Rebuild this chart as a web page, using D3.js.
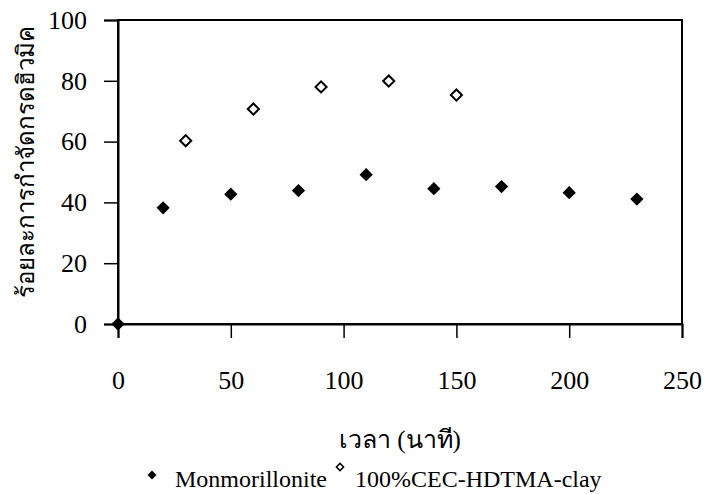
<!DOCTYPE html>
<html>
<head>
<meta charset="utf-8">
<script src="https://cdn.jsdelivr.net/npm/d3@7"></script>
<style>
  html, body { margin: 0; padding: 0; background: #fff; }
</style>
</head>
<body>
<svg id="chart" width="707" height="494"></svg>
<script>
// ---- Data ----
const monTimes = [0, 20, 50, 80, 110, 140, 170, 200, 230];
const monValues = [0, 38.2, 42.7, 43.9, 49.1, 44.5, 45.2, 43.2, 41.1];
const hdtmaTimes = [30, 60, 90, 120, 150];
const hdtmaValues = [60.3, 70.7, 78.0, 79.9, 75.3];
const xTicks = [0, 50, 100, 150, 200, 250];
const yTicks = [0, 20, 40, 60, 80, 100];
const seriesNames = ["Monmorillonite", "100%CEC-HDTMA-clay"];
const xTitle = "เวลา (นาที)";
const yTitle = "ร้อยละการกำจัดกรดฮิวมิค";

const SERIF = "'Liberation Serif', 'Times New Roman', Tinos, serif";

// ---- Layout ----
const svg = d3.select("#chart");
const L = 118, R = 682, T = 20, B = 324;
const x = d3.scaleLinear().domain([0, 250]).range([L, R]);
const y = d3.scaleLinear().domain([0, 100]).range([B, T]);

// frame
svg.append("rect").attr("x", L).attr("y", T).attr("width", R - L).attr("height", B - T)
  .attr("fill", "none").attr("stroke", "#000").attr("stroke-width", 2);

// axes
const yAxis = d3.axisLeft(y).tickValues(yTicks).tickSize(14).tickPadding(17).tickFormat(d3.format("d"));
const gy = svg.append("g").attr("transform", `translate(${L},0)`).call(yAxis);
const xAxis = d3.axisBottom(x).tickValues(xTicks).tickSize(14).tickPadding(33).tickFormat(d3.format("d"));
const gx = svg.append("g").attr("transform", `translate(0,${B})`).call(xAxis);
[gx, gy].forEach(g => {
  g.attr("font-family", SERIF).attr("font-size", 26);
  g.select(".domain").attr("stroke", "#000").attr("stroke-width", 2);
  g.selectAll(".tick line").attr("stroke", "#000").attr("stroke-width", 1.5);
  g.selectAll(".tick text")
    .style("font-family", SERIF).style("font-size", "26px").attr("fill", "#000");
});

// markers
const sq = d3.symbol().type(d3.symbolSquare);
svg.append("g").selectAll("path").data(monTimes.map((t, i) => [t, monValues[i]])).join("path")
  .attr("d", sq.size(88)())
  .attr("transform", d => `translate(${x(d[0])},${y(d[1])}) rotate(45)`)
  .attr("fill", "#000");
svg.append("g").selectAll("path").data(hdtmaTimes.map((t, i) => [t, hdtmaValues[i]])).join("path")
  .attr("d", sq.size(62)())
  .attr("transform", d => `translate(${x(d[0])},${y(d[1])}) rotate(45)`)
  .attr("fill", "#fff").attr("stroke", "#000").attr("stroke-width", 2);

// titles
svg.append("text").attr("x", (L + R) / 2).attr("y", 448).attr("text-anchor", "middle")
  .style("font-family", SERIF).style("font-size", "25px").text(xTitle);
svg.append("text").attr("transform", `translate(34,162) rotate(-90)`)
  .attr("text-anchor", "middle").style("font-family", SERIF).style("font-size", "24px").text(yTitle);

// legend
const lg = svg.append("g");
lg.append("path").attr("d", d3.symbol().type(d3.symbolSquare).size(40)())
  .attr("transform", "translate(152,475) rotate(45)").attr("fill", "#000");
lg.append("text").attr("x", 175).attr("y", 487).style("font-family", SERIF).style("font-size", "24px").text(seriesNames[0]);
lg.append("path").attr("d", d3.symbol().type(d3.symbolSquare).size(26)())
  .attr("transform", "translate(340,467) rotate(45)").attr("fill", "#fff")
  .attr("stroke", "#000").attr("stroke-width", 1.5);
lg.append("text").attr("x", 355).attr("y", 487).style("font-family", SERIF).style("font-size", "24px").text(seriesNames[1]);
</script>
</body>
</html>
